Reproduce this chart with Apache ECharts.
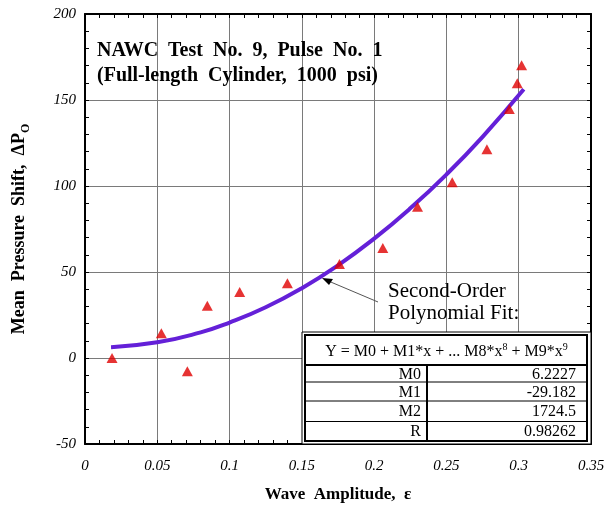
<!DOCTYPE html>
<html>
<head>
<meta charset="utf-8">
<script src="https://cdn.jsdelivr.net/npm/echarts@6/dist/echarts.min.js"></script>
<style>
  html, body { margin: 0; padding: 0; background: #fff; }
  #chart { width: 611px; height: 505px; }
</style>
</head>
<body>
<div id="chart"></div>
<script>
// measured points (wave amplitude, mean pressure shift)
const pointX = [0.0187, 0.0528, 0.0708, 0.0846, 0.107, 0.140, 0.176, 0.206, 0.230, 0.254, 0.278, 0.2935, 0.299, 0.302]
const pointY = [0.0, 14.4, -7.7, 30.4, 38.4, 43.4, 54.6, 64.0, 88.0, 102.2, 121.3, 144.8, 159.7, 170.2]

// fitted curve
const fitX = [0.018, 0.05, 0.08, 0.1, 0.125, 0.15, 0.175, 0.2, 0.225, 0.25, 0.275, 0.3035]
const fitY = [6.3, 9.1, 14.9, 20.6, 29.5, 40.6, 53.9, 69.4, 87.0, 106.7, 128.6, 156.2]

// coefficient table
const coefNames = ['M0', 'M1', 'M2', 'R']
const coefValues = ['6.2227', '-29.182', '1724.5', '0.98262']

const serif = '"Liberation Serif", "DejaVu Serif", serif'
const gridColor = '#7a7a7a'

const chart = echarts.init(document.getElementById('chart'), null, { renderer: 'canvas' })

const tickStyle = { show: true, inside: true, length: 4, lineStyle: { color: '#000', width: 1 } }
const minorStyle = { show: true, splitNumber: 5, length: 4, lineStyle: { color: '#000', width: 1 } }

// table geometry (decoration only)
const tbl = { x: 302, y: 332, w: 289, h: 112 }
const rowTops = [365, 382, 401, 421.5]
const rowBottoms = [382, 401, 421.5, 441]
const tableEls = [
  { type: 'rect', shape: { x: tbl.x, y: tbl.y, width: tbl.w, height: tbl.h }, style: { fill: '#fff', stroke: '#000', lineWidth: 1 }, z: 10 },
  { type: 'rect', shape: { x: tbl.x + 3, y: tbl.y + 3, width: tbl.w - 7, height: tbl.h - 6 }, style: { fill: 'none', stroke: '#000', lineWidth: 2 }, z: 11 },
  { type: 'line', shape: { x1: tbl.x + 3, y1: 365, x2: tbl.x + tbl.w - 4, y2: 365 }, style: { stroke: '#000', lineWidth: 2 }, z: 11 },
  { type: 'line', shape: { x1: 427, y1: 365, x2: 427, y2: tbl.y + tbl.h - 3 }, style: { stroke: '#000', lineWidth: 2 }, z: 11 },
  {
    type: 'text', z: 12, x: (tbl.x + tbl.x + tbl.w) / 2, y: 351,
    style: {
      text: '{t|Y = M0 + M1*x + ... M8*x}{s|8}{t| + M9*x}{s|9}',
      align: 'center', verticalAlign: 'middle',
      rich: {
        t: { fontFamily: serif, fontSize: 16, fill: '#000', lineHeight: 18, verticalAlign: 'bottom' },
        s: { fontFamily: serif, fontSize: 10, fill: '#000', lineHeight: 18, verticalAlign: 'top' }
      }
    }
  }
]
coefNames.forEach((n, i) => {
  if (i > 0) {
    tableEls.push({ type: 'line', shape: { x1: tbl.x + 3, y1: rowTops[i], x2: tbl.x + tbl.w - 4, y2: rowTops[i] }, style: { stroke: '#000', lineWidth: 1 }, z: 11 })
  }
  const cy = (rowTops[i] + rowBottoms[i]) / 2 + 1
  tableEls.push({ type: 'text', z: 12, x: 421, y: cy, style: { text: n, align: 'right', verticalAlign: 'middle', font: '16px ' + serif, fill: '#000' } })
  tableEls.push({ type: 'text', z: 12, x: 576, y: cy, style: { text: coefValues[i], align: 'right', verticalAlign: 'middle', font: '16px ' + serif, fill: '#000' } })
})

chart.setOption({
  animation: false,
  backgroundColor: '#fff',
  grid: { left: 85, top: 14, right: 20, bottom: 61, containLabel: false, outerBoundsMode: 'none' },
  xAxis: [
    {
      type: 'value', min: 0, max: 0.35, interval: 0.05, position: 'bottom',
      axisLine: { show: true, onZero: false, lineStyle: { color: '#000', width: 2 } },
      axisTick: tickStyle, minorTick: minorStyle,
      splitLine: { show: true, lineStyle: { color: gridColor, width: 1 } },
      axisLabel: { fontFamily: serif, fontStyle: 'italic', fontSize: 15, color: '#000', margin: 15, showMaxLabel: true },
      name: 'Wave  Amplitude,  ε', nameLocation: 'middle', nameGap: 42,
      nameTextStyle: { fontFamily: serif, fontWeight: 'bold', fontSize: 17, color: '#000' }
    },
    {
      type: 'value', min: 0, max: 0.35, interval: 0.05, position: 'top',
      axisLine: { show: true, onZero: false, lineStyle: { color: '#000', width: 2 } },
      axisTick: tickStyle, minorTick: minorStyle,
      splitLine: { show: false }, axisLabel: { show: false }
    }
  ],
  yAxis: [
    {
      type: 'value', min: -50, max: 200, interval: 50, position: 'left',
      axisLine: { show: true, onZero: false, lineStyle: { color: '#000', width: 2 } },
      axisTick: tickStyle, minorTick: minorStyle,
      splitLine: { show: true, lineStyle: { color: gridColor, width: 1 } },
      axisLabel: { fontFamily: serif, fontStyle: 'italic', fontSize: 15, color: '#000', margin: 9 },
      name: '{a|Mean  Pressure  Shift,  ΔP}{s|O}', nameLocation: 'middle', nameGap: 53, nameRotate: 90,
      nameTextStyle: {
        rich: {
          a: { fontFamily: serif, fontWeight: 'bold', fontSize: 18, color: '#000', lineHeight: 22, verticalAlign: 'top' },
          s: { fontFamily: serif, fontWeight: 'bold', fontSize: 12, color: '#000', lineHeight: 22, verticalAlign: 'bottom' }
        }
      }
    },
    {
      type: 'value', min: -50, max: 200, interval: 50, position: 'right',
      axisLine: { show: true, onZero: false, lineStyle: { color: '#000', width: 2 } },
      axisTick: tickStyle, minorTick: minorStyle,
      splitLine: { show: false }, axisLabel: { show: false }
    }
  ],
  series: [
    {
      type: 'line', name: 'fit', smooth: true, symbol: 'none',
      data: fitX.map((x, i) => [x, fitY[i]]),
      lineStyle: { color: '#6420d8', width: 4 }, z: 3
    },
    {
      type: 'scatter', name: 'data', symbol: 'triangle', symbolSize: [11, 10],
      data: pointX.map((x, i) => [x, pointY[i]]),
      itemStyle: { color: '#e00000' }, z: 4
    }
  ],
  graphic: [
    {
      type: 'text', left: 97, top: 38, z: 20,
      style: {
        text: 'NAWC  Test  No.  9,  Pulse  No.  1\n(Full-length  Cylinder,  1000  psi)',
        font: 'bold 20px ' + serif, fill: '#000', lineHeight: 25
      }
    },
    {
      type: 'text', left: 388, top: 280, z: 20,
      style: { text: 'Second-Order\nPolynomial Fit:', font: '21px ' + serif, fill: '#000', lineHeight: 22 }
    },
    {
      type: 'line', z: 20, shape: { x1: 378, y1: 302, x2: 326, y2: 280 },
      style: { stroke: '#555', lineWidth: 1 }
    },
    {
      type: 'polygon', z: 20, shape: { points: [[322, 278], [333, 279], [329, 285]] },
      style: { fill: '#000' }
    }
  ].concat(tableEls)
})
</script>
</body>
</html>
